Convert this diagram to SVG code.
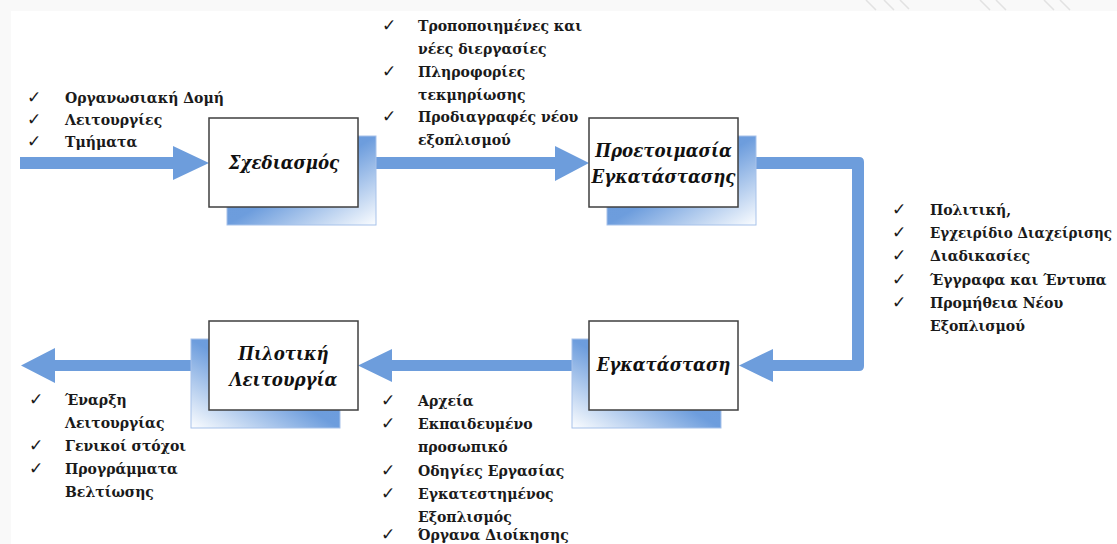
<svg xmlns="http://www.w3.org/2000/svg" width="1117" height="544" viewBox="0 0 1117 544">
  <defs>
    <!-- shadow plates: blue on one diagonal, fading to white in one corner -->
    <linearGradient id="shadeR" x1="0" y1="0" x2="1" y2="1">
      <stop offset="0" stop-color="#6a9adb"/>
      <stop offset="0.5" stop-color="#6d9ddd"/>
      <stop offset="1" stop-color="#fbfdff"/>
    </linearGradient>
    <linearGradient id="shadeL" x1="1" y1="0" x2="0" y2="1">
      <stop offset="0" stop-color="#6a9adb"/>
      <stop offset="0.5" stop-color="#6d9ddd"/>
      <stop offset="1" stop-color="#fbfdff"/>
    </linearGradient>
  </defs>
  <style>
    .flow { fill: #6d9ddc; }
    .box { fill: #ffffff; stroke: #3f3f3f; stroke-width: 1.5; }
    .shR { fill: url(#shadeR); stroke: #a7c2ea; stroke-width: 1; }
    .shL { fill: url(#shadeL); stroke: #a7c2ea; stroke-width: 1; }
    .title { font-family: "DejaVu Serif", "Liberation Serif", serif; font-stretch: condensed; font-weight: bold; font-style: italic; font-size: 18.5px; fill: #111111; text-anchor: middle; }
    .item { font-family: "DejaVu Serif", "Liberation Serif", serif; font-stretch: condensed; font-weight: bold; font-size: 15.6px; fill: #1a1a1a; }
    .tick { font-family: "DejaVu Sans", sans-serif; font-size: 17px; fill: #1a1a1a; }
    .tex { stroke: #e2e2e2; stroke-width: 1.5; }
  </style>

  <!-- page background with light margin strips -->
  <rect x="0" y="0" width="1117" height="544" fill="#f9f9f9"/>
  <rect x="11" y="11" width="1106" height="533" fill="#ffffff"/>
  <g class="tex">
    <line x1="866" y1="0" x2="876" y2="10"/>
    <line x1="884" y1="0" x2="894" y2="10"/>
    <line x1="900" y1="0" x2="909" y2="9"/>
    <line x1="980" y1="0" x2="990" y2="10"/>
    <line x1="996" y1="0" x2="1006" y2="10"/>
    <line x1="1044" y1="0" x2="1054" y2="10"/>
    <line x1="1060" y1="0" x2="1070" y2="10"/>
  </g>

  <!-- flow arrows -->
  <g id="connectors">
    <path class="flow" d="M20,157 H173 V146 L209,163 L173,180 V169 H20 Z"/>
    <path class="flow" d="M360,157 H555 V146 L589,163 L555,181 V169 H360 Z"/>
    <path class="flow" d="M740,157 H859 Q864,157 864,162 V366 Q864,371 859,371 H773 V382 L739,365.5 L773,349 V360 H852 V169 H740 Z"/>
    <path class="flow" d="M590,360 H392 V349 L358,365.5 L392,382 V371 H590 Z"/>
    <path class="flow" d="M200,360 H55 V348 L21,365.5 L55,383 V371 H200 Z"/>
  </g>

  <!-- process steps -->
  <g id="step-design">
    <rect class="shR" x="227" y="136" width="149" height="89"/>
    <rect class="box" x="209" y="118" width="149" height="89"/>
    <text class="title" x="284" y="169">Σχεδιασμός</text>
  </g>
  <g id="step-preparation">
    <rect class="shR" x="607" y="136" width="149" height="89"/>
    <rect class="box" x="589" y="118" width="149" height="89"/>
    <text class="title" x="663.5" y="157">Προετοιμασία</text>
    <text class="title" x="663.5" y="183">Εγκατάστασης</text>
  </g>
  <g id="step-installation">
    <rect class="shL" x="572" y="339" width="149" height="89"/>
    <rect class="box" x="589" y="321" width="149" height="89"/>
    <text class="title" x="663.5" y="371">Εγκατάσταση</text>
  </g>
  <g id="step-pilot">
    <rect class="shL" x="191" y="339" width="149" height="89"/>
    <rect class="box" x="209" y="321" width="149" height="89"/>
    <text class="title" x="283.5" y="360">Πιλοτική</text>
    <text class="title" x="283.5" y="386">Λειτουργία</text>
  </g>

  <!-- inputs to design -->
  <g id="list-inputs">
    <text class="tick" x="27" y="103">✓</text><text class="item" x="65" y="103">Οργανωσιακή Δομή</text>
    <text class="tick" x="27" y="125">✓</text><text class="item" x="65" y="125">Λειτουργίες</text>
    <text class="tick" x="27" y="147">✓</text><text class="item" x="65" y="147">Τμήματα</text>
  </g>

  <!-- design outputs -->
  <g id="list-design">
    <text class="tick" x="382" y="31">✓</text><text class="item" x="418" y="31">Τροποποιημένες και</text>
    <text class="item" x="418" y="54">νέες διεργασίες</text>
    <text class="tick" x="382" y="77">✓</text><text class="item" x="418" y="77">Πληροφορίες</text>
    <text class="item" x="418" y="100">τεκμηρίωσης</text>
    <text class="tick" x="382" y="122">✓</text><text class="item" x="418" y="122">Προδιαγραφές νέου</text>
    <text class="item" x="418" y="145">εξοπλισμού</text>
  </g>

  <!-- preparation outputs -->
  <g id="list-preparation">
    <text class="tick" x="892" y="215">✓</text><text class="item" x="930" y="215">Πολιτική,</text>
    <text class="tick" x="892" y="238">✓</text><text class="item" x="930" y="238" textLength="182" lengthAdjust="spacingAndGlyphs">Εγχειρίδιο Διαχείρισης</text>
    <text class="tick" x="892" y="261">✓</text><text class="item" x="930" y="261">Διαδικασίες</text>
    <text class="tick" x="892" y="285">✓</text><text class="item" x="930" y="285">Έγγραφα και Έντυπα</text>
    <text class="tick" x="892" y="308">✓</text><text class="item" x="930" y="308">Προμήθεια Νέου</text>
    <text class="item" x="930" y="331">Εξοπλισμού</text>
  </g>

  <!-- installation outputs -->
  <g id="list-installation">
    <text class="tick" x="381" y="406">✓</text><text class="item" x="418" y="406">Αρχεία</text>
    <text class="tick" x="381" y="429">✓</text><text class="item" x="418" y="429">Εκπαιδευμένο</text>
    <text class="item" x="418" y="452">προσωπικό</text>
    <text class="tick" x="381" y="476">✓</text><text class="item" x="418" y="476">Οδηγίες Εργασίας</text>
    <text class="tick" x="381" y="499">✓</text><text class="item" x="418" y="499">Εγκατεστημένος</text>
    <text class="item" x="418" y="522">Εξοπλισμός</text>
    <text class="tick" x="381" y="540">✓</text><text class="item" x="418" y="540">Όργανα Διοίκησης</text>
  </g>

  <!-- pilot outputs -->
  <g id="list-pilot">
    <text class="tick" x="29" y="405">✓</text><text class="item" x="65" y="405">Έναρξη</text>
    <text class="item" x="65" y="428">Λειτουργίας</text>
    <text class="tick" x="29" y="451">✓</text><text class="item" x="65" y="451">Γενικοί στόχοι</text>
    <text class="tick" x="29" y="474">✓</text><text class="item" x="65" y="474">Προγράμματα</text>
    <text class="item" x="65" y="497">Βελτίωσης</text>
  </g>
</svg>
